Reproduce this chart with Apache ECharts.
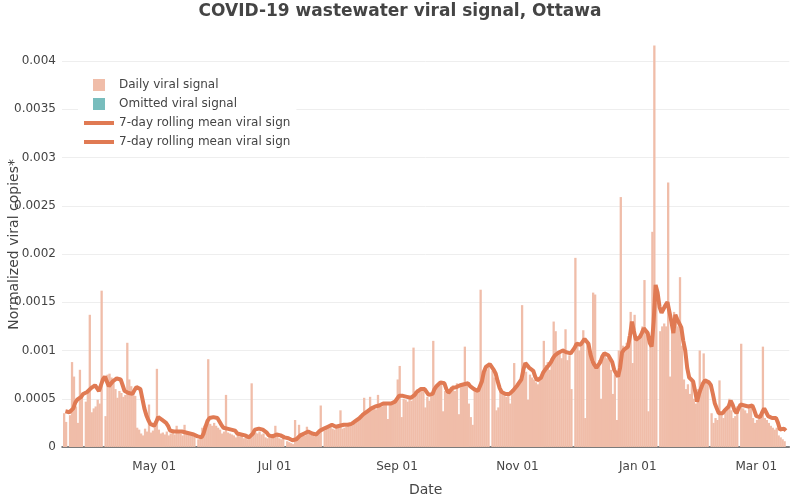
<!DOCTYPE html>
<html>
<head>
<meta charset="utf-8">
<script src="https://cdn.jsdelivr.net/npm/echarts@6/dist/echarts.min.js"></script>
<style>html,body{margin:0;padding:0;background:#fff;}#chart{width:800px;height:500px;}</style>
</head>
<body>
<div id="chart"></div>
<script>
// ---- Data ----
const startDate = '2023-03-17';   // first daily sample
const dayCount = 366;             // daily samples through 2024-03-16
const seriesNames = ['Daily viral signal', 'Omitted viral signal', '7-day rolling mean viral signal', '7-day rolling mean viral signal (omitted)'];
const tickDates = ['2023-05-01', '2023-07-01', '2023-09-01', '2023-11-01', '2024-01-01', '2024-03-01'];
const monthNames = ['Jan','Feb','Mar','Apr','May','Jun','Jul','Aug','Sep','Oct','Nov','Dec'];

// Daily normalized viral copies (null = no sample)
const dailySignal = [
35e-5,26e-5,null,33e-5,88e-5,73e-5,42e-5,25e-5,80e-5,53e-5,
null,47e-5,56e-5,137e-5,36e-5,40e-5,42e-5,49e-5,45e-5,162e-5,
null,32e-5,75e-5,76e-5,72e-5,67e-5,60e-5,51e-5,58e-5,56e-5,
52e-5,54e-5,108e-5,70e-5,63e-5,57e-5,53e-5,20e-5,18e-5,14e-5,
12e-5,19e-5,16e-5,44e-5,15e-5,17e-5,22e-5,81e-5,18e-5,14e-5,
15e-5,13e-5,16e-5,12e-5,14e-5,15e-5,13e-5,22e-5,17e-5,14e-5,
12e-5,23e-5,14e-5,13e-5,12e-5,14e-5,11e-5,null,8e-5,9e-5,
20e-5,22e-5,25e-5,91e-5,24e-5,22e-5,25e-5,22e-5,20e-5,18e-5,
14e-5,16e-5,54e-5,15e-5,14e-5,13e-5,12e-5,10e-5,13e-5,11e-5,
12e-5,9e-5,10e-5,8e-5,11e-5,66e-5,17e-5,15e-5,14e-5,16e-5,
13e-5,14e-5,10e-5,9e-5,12e-5,11e-5,10e-5,22e-5,12e-5,9e-5,
8e-5,10e-5,null,6e-5,5e-5,4e-5,3e-5,28e-5,9e-5,23e-5,
12e-5,14e-5,12e-5,21e-5,14e-5,13e-5,12e-5,11e-5,15e-5,18e-5,
43e-5,null,17e-5,20e-5,22e-5,21e-5,19e-5,18e-5,20e-5,21e-5,
38e-5,19e-5,20e-5,21e-5,22e-5,23e-5,22e-5,24e-5,27e-5,30e-5,
32e-5,35e-5,51e-5,37e-5,38e-5,52e-5,40e-5,41e-5,39e-5,54e-5,
43e-5,42e-5,44e-5,45e-5,29e-5,44e-5,46e-5,45e-5,49e-5,70e-5,
84e-5,31e-5,50e-5,49e-5,47e-5,52e-5,48e-5,103e-5,58e-5,60e-5,
57e-5,62e-5,59e-5,41e-5,52e-5,48e-5,55e-5,110e-5,60e-5,62e-5,
64e-5,66e-5,37e-5,58e-5,55e-5,60e-5,62e-5,64e-5,58e-5,66e-5,
34e-5,63e-5,65e-5,104e-5,66e-5,45e-5,31e-5,23e-5,58e-5,60e-5,
57e-5,163e-5,78e-5,82e-5,80e-5,83e-5,null,79e-5,72e-5,38e-5,
41e-5,60e-5,58e-5,55e-5,52e-5,56e-5,45e-5,60e-5,87e-5,62e-5,
64e-5,66e-5,147e-5,80e-5,78e-5,49e-5,75e-5,72e-5,70e-5,67e-5,
65e-5,72e-5,75e-5,110e-5,85e-5,88e-5,80e-5,92e-5,130e-5,120e-5,
95e-5,100e-5,92e-5,102e-5,122e-5,90e-5,95e-5,60e-5,null,196e-5,
105e-5,100e-5,108e-5,121e-5,30e-5,110e-5,100e-5,88e-5,160e-5,158e-5,
85e-5,90e-5,50e-5,96e-5,98e-5,92e-5,95e-5,80e-5,55e-5,75e-5,
28e-5,100e-5,259e-5,105e-5,102e-5,108e-5,115e-5,140e-5,87e-5,137e-5,
110e-5,112e-5,115e-5,125e-5,173e-5,118e-5,37e-5,105e-5,223e-5,416e-5,
150e-5,null,120e-5,125e-5,128e-5,125e-5,274e-5,73e-5,120e-5,140e-5,
135e-5,125e-5,176e-5,105e-5,70e-5,60e-5,65e-5,55e-5,70e-5,50e-5,
45e-5,60e-5,100e-5,65e-5,97e-5,70e-5,66e-5,null,35e-5,25e-5,
30e-5,28e-5,69e-5,35e-5,30e-5,40e-5,42e-5,50e-5,38e-5,30e-5,
32e-5,42e-5,null,107e-5,40e-5,38e-5,35e-5,42e-5,44e-5,30e-5,
25e-5,28e-5,30e-5,35e-5,104e-5,30e-5,28e-5,25e-5,22e-5,20e-5,
18e-5,20e-5,12e-5,10e-5,8e-5,6e-5
];

// Omitted samples (none visible in this period)
const omittedSignal = [];

// 7-day rolling mean
const rollingMean = [
37e-5,36e-5,36e-5,37e-5,40e-5,46e-5,49e-5,48e-5,52e-5,55e-5,
56e-5,57e-5,59e-5,61e-5,62e-5,64e-5,62e-5,58e-5,60e-5,70e-5,
73e-5,68e-5,63e-5,65e-5,68e-5,70e-5,71e-5,72e-5,70e-5,64e-5,
58e-5,56e-5,56e-5,54e-5,55e-5,59e-5,62e-5,64e-5,60e-5,50e-5,
40e-5,33e-5,28e-5,24e-5,22e-5,22e-5,26e-5,31e-5,30e-5,28e-5,
27e-5,25e-5,22e-5,17e-5,16e-5,16e-5,16e-5,16e-5,17e-5,16e-5,
16e-5,15e-5,15e-5,14e-5,14e-5,13e-5,12e-5,11e-5,10e-5,10e-5,
14e-5,21e-5,27e-5,30e-5,31e-5,31e-5,30e-5,30e-5,28e-5,23e-5,
20e-5,19e-5,19e-5,19e-5,18e-5,18e-5,17e-5,14e-5,13e-5,13e-5,
12e-5,12e-5,11e-5,10e-5,10e-5,14e-5,18e-5,19e-5,19e-5,19e-5,
18e-5,18e-5,15e-5,12e-5,11e-5,11e-5,12e-5,13e-5,13e-5,12e-5,
11e-5,10e-5,10e-5,9e-5,8e-5,7e-5,5e-5,8e-5,10e-5,12e-5,
13e-5,14e-5,15e-5,16e-5,15e-5,14e-5,14e-5,13e-5,15e-5,17e-5,
19e-5,19e-5,20e-5,21e-5,22e-5,23e-5,22e-5,21e-5,21e-5,22e-5,
22e-5,23e-5,23e-5,23e-5,24e-5,24e-5,25e-5,27e-5,28e-5,30e-5,
32e-5,34e-5,35e-5,37e-5,39e-5,40e-5,41e-5,42e-5,43e-5,43e-5,
44e-5,45e-5,45e-5,45e-5,46e-5,45e-5,46e-5,47e-5,48e-5,53e-5,
54e-5,53e-5,52e-5,52e-5,51e-5,51e-5,50e-5,54e-5,57e-5,58e-5,
60e-5,61e-5,60e-5,58e-5,54e-5,52e-5,55e-5,60e-5,63e-5,65e-5,
67e-5,68e-5,66e-5,60e-5,56e-5,58e-5,61e-5,63e-5,62e-5,63e-5,
64e-5,64e-5,65e-5,67e-5,66e-5,63e-5,61e-5,60e-5,59e-5,58e-5,
59e-5,68e-5,78e-5,83e-5,85e-5,86e-5,85e-5,80e-5,76e-5,68e-5,
61e-5,57e-5,56e-5,55e-5,54e-5,55e-5,57e-5,59e-5,61e-5,64e-5,
66e-5,70e-5,80e-5,87e-5,85e-5,82e-5,81e-5,79e-5,73e-5,69e-5,
68e-5,72e-5,77e-5,80e-5,82e-5,85e-5,88e-5,92e-5,95e-5,97e-5,
98e-5,99e-5,100e-5,100e-5,98e-5,97e-5,97e-5,99e-5,103e-5,107e-5,
109e-5,106e-5,108e-5,112e-5,114e-5,107e-5,96e-5,89e-5,85e-5,82e-5,
82e-5,88e-5,94e-5,97e-5,98e-5,95e-5,94e-5,88e-5,80e-5,76e-5,
73e-5,82e-5,98e-5,101e-5,103e-5,104e-5,115e-5,130e-5,120e-5,111e-5,
112e-5,114e-5,118e-5,123e-5,125e-5,118e-5,108e-5,104e-5,130e-5,168e-5,
160e-5,145e-5,139e-5,143e-5,147e-5,150e-5,152e-5,130e-5,118e-5,137e-5,
132e-5,128e-5,124e-5,110e-5,100e-5,82e-5,72e-5,70e-5,68e-5,58e-5,
47e-5,55e-5,61e-5,66e-5,69e-5,69e-5,67e-5,64e-5,55e-5,45e-5,
40e-5,35e-5,33e-5,35e-5,38e-5,40e-5,42e-5,48e-5,44e-5,38e-5,
35e-5,40e-5,44e-5,45e-5,43e-5,42e-5,42e-5,40e-5,43e-5,38e-5,
32e-5,31e-5,31e-5,36e-5,40e-5,36e-5,32e-5,31e-5,30e-5,30e-5,
30e-5,25e-5,18e-5,19e-5,19e-5,17e-5
];
const omittedRollingMean = [];

// ---- Build date list ----
function pad(n){ return String(n).padStart(2,'0'); }
const dates = [];
{
  const p = startDate.split('-').map(Number);
  for (let i = 0; i < dayCount; i++) {
    const d = new Date(Date.UTC(p[0], p[1]-1, p[2] + i));
    dates.push(d.getUTCFullYear() + '-' + pad(d.getUTCMonth()+1) + '-' + pad(d.getUTCDate()));
  }
}
const toPairs = arr => arr.map((v, i) => [dates[i], v == null ? '-' : v]);
const tickSet = new Set(tickDates);

const FONT = 'DejaVu Sans';
const BAR = '#f0bda9';
const LINE = '#e07a53';
const TEAL = '#78bdbd';
const SQ = 'path://M0,0L10,0L10,10L0,10Z';
const LN = 'path://M0,0L30,0L30,4L0,4Z';

const chart = echarts.init(document.getElementById('chart'), null, {renderer: 'canvas'});
chart.setOption({
  animation: false,
  backgroundColor: '#fff',
  textStyle: {fontFamily: FONT},
  title: {
    text: 'COVID-19 wastewater viral signal, Ottawa',
    left: 'center', top: -2,
    textStyle: {fontFamily: FONT, fontSize: 17, fontWeight: 'bold', color: '#444'}
  },
  legend: {
    orient: 'vertical', left: 78, top: 75,
    padding: [4, 6], backgroundColor: '#fff',
    itemWidth: 30, itemHeight: 12, itemGap: 7,
    textStyle: {fontFamily: FONT, fontSize: 12, color: '#444', width: 177, overflow: 'truncate', ellipsis: ''},
    data: [
      {name: seriesNames[0], icon: SQ},
      {name: seriesNames[1], icon: SQ},
      {name: seriesNames[2], icon: LN},
      {name: seriesNames[3], icon: LN}
    ]
  },
  grid: {left: 62, right: 10.7, top: 41.7, bottom: 53, containLabel: false, outerBoundsMode: 'none'},
  xAxis: {
    type: 'time',
    min: '2023-03-16T12:00:00', max: '2024-03-16T12:00:00',
    splitNumber: 5,
    name: 'Date', nameLocation: 'middle', nameGap: 36, nameMoveOverlap: false,
    nameTextStyle: {fontFamily: FONT, fontSize: 14, color: '#444'},
    axisLine: {show: true, lineStyle: {color: '#555', width: 1.5}},
    axisTick: {show: false},
    splitLine: {show: false},
    axisLabel: {
      showMinLabel: false, showMaxLabel: false,
      formatter: v => {
        const d = new Date(v);
        const key = d.getFullYear() + '-' + pad(d.getMonth()+1) + '-' + pad(d.getDate());
        return tickSet.has(key) ? monthNames[d.getMonth()] + ' ' + pad(d.getDate()) : '';
      },
      margin: 14, fontFamily: FONT, fontSize: 12, color: '#444', fontWeight: 'normal'
    }
  },
  yAxis: {
    type: 'value', min: 0, max: 0.0042, interval: 0.0005,
    name: 'Normalized viral copies*', nameLocation: 'middle', nameGap: 41, nameMoveOverlap: false,
    nameTextStyle: {fontFamily: FONT, fontSize: 14, color: '#444'},
    axisLine: {show: false}, axisTick: {show: false},
    splitLine: {show: true, showMaxLine: false, lineStyle: {color: '#eeeeee', width: 1}},
    axisLabel: {showMaxLabel: false, margin: 6, fontFamily: FONT, fontSize: 12, color: '#444'}
  },
  series: [
    {name: seriesNames[0], type: 'bar', data: toPairs(dailySignal), barWidth: 2.3, itemStyle: {color: BAR}, z: 2},
    {name: seriesNames[1], type: 'bar', data: toPairs(omittedSignal), barWidth: 2.3, itemStyle: {color: TEAL}, z: 2},
    {name: seriesNames[2], type: 'line', data: toPairs(rollingMean), symbol: 'none', showSymbol: false, lineStyle: {color: LINE, width: 4}, itemStyle: {color: LINE}, z: 3},
    {name: seriesNames[3], type: 'line', data: toPairs(omittedRollingMean), symbol: 'none', showSymbol: false, lineStyle: {color: LINE, width: 4}, itemStyle: {color: LINE}, z: 3}
  ]
});
</script>
</body>
</html>
